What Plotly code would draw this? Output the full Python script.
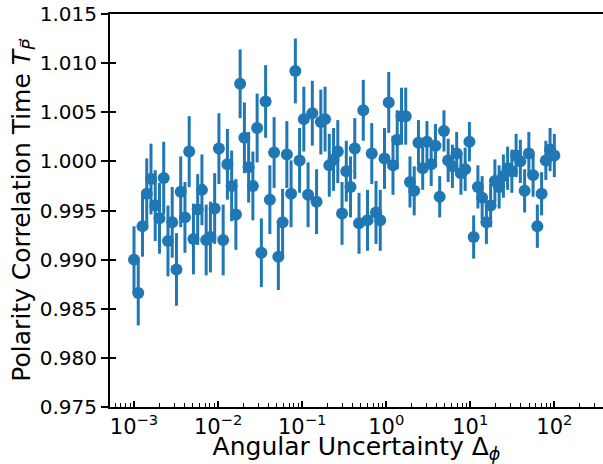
import numpy as np
import plotly.graph_objects as go

# Angular uncertainty grid (100 log-spaced samples, 1e-3 .. 1e2)
delta_phi = np.logspace(-3, 2, 100)

# Normalised polarity correlation time at each sample
corr_time = [
    0.9900, 0.9866, 0.9934, 0.9967, 0.9982, 0.9955, 0.9942, 0.9983, 0.9919, 0.9938,
    0.9890, 0.9969, 0.9943, 1.0010, 0.9921, 0.9951, 0.9971, 0.9920, 0.9923, 0.9952,
    1.0013, 0.9920, 0.9997, 0.9975, 0.9946, 1.0079, 1.0024, 0.9994, 0.9975, 1.0034,
    0.9907, 1.0061, 0.9961, 1.0009, 0.9903, 0.9938, 1.0007, 0.9967, 1.0092, 1.0001,
    1.0043, 0.9966, 1.0049, 0.9959, 1.0040, 1.0043, 0.9996, 1.0002, 1.0010, 0.9947,
    0.9990, 0.9974, 1.0013, 0.9937, 1.0052, 0.9940, 1.0008, 0.9948, 0.9940, 1.0003,
    1.0060, 0.9996, 1.0022, 1.0046, 1.0046, 0.9979, 0.9970, 1.0019, 0.9993, 1.0020,
    0.9997, 1.0016, 0.9964, 1.0031, 1.0001, 0.9995, 1.0008, 0.9988, 0.9992, 1.0020,
    0.9923, 0.9974, 0.9963, 0.9938, 0.9955, 0.9980, 0.9974, 0.9985, 0.9993, 0.9990,
    1.0006, 1.0000, 0.9970, 1.0008, 0.9986, 0.9934, 0.9967, 1.0001, 1.0012, 1.0006,
]

# One-sigma uncertainty of each point
corr_err = [
    0.0034, 0.0033, 0.0031, 0.0036, 0.0036, 0.0036, 0.0036, 0.0037, 0.0036, 0.0036,
    0.0037, 0.0036, 0.0036, 0.0036, 0.0036, 0.0036, 0.0036, 0.0036, 0.0036, 0.0036,
    0.0036, 0.0036, 0.0036, 0.0036, 0.0036, 0.0035, 0.0036, 0.0036, 0.0035, 0.0035,
    0.0035, 0.0037, 0.0035, 0.0036, 0.0034, 0.0034, 0.0034, 0.0034, 0.0033, 0.0033,
    0.0033, 0.0033, 0.0033, 0.0033, 0.0033, 0.0033, 0.0032, 0.0032, 0.0032, 0.0032,
    0.0031, 0.0031, 0.0031, 0.0031, 0.0031, 0.0031, 0.0031, 0.0032, 0.0031, 0.0031,
    0.0031, 0.0030, 0.0030, 0.0029, 0.0029, 0.0026, 0.0025, 0.0023, 0.0022, 0.0021,
    0.0022, 0.0022, 0.0021, 0.0021, 0.0022, 0.0022, 0.0022, 0.0022, 0.0022, 0.0020,
    0.0022, 0.0022, 0.0022, 0.0022, 0.0022, 0.0022, 0.0022, 0.0022, 0.0022, 0.0022,
    0.0022, 0.0022, 0.0022, 0.0022, 0.0022, 0.0022, 0.0022, 0.0020, 0.0022, 0.0022,
]

x_tick_vals = [1e-3, 1e-2, 1e-1, 1e0, 1e1, 1e2]
x_tick_text = ["10<sup>−3</sup>", "10<sup>−2</sup>", "10<sup>−1</sup>",
               "10<sup>0</sup>", "10<sup>1</sup>", "10<sup>2</sup>"]
y_tick_vals = [0.975, 0.980, 0.985, 0.990, 0.995, 1.000, 1.005, 1.010, 1.015]
y_tick_text = ["0.975", "0.980", "0.985", "0.990", "0.995",
               "1.000", "1.005", "1.010", "1.015"]

blue = "#1f77b4"
font_family = "DejaVu Sans"
y_range = [0.975, 1.015]

fig = go.Figure(
    go.Scatter(
        x=delta_phi,
        y=corr_time,
        mode="markers",
        marker=dict(color=blue, size=12),
        error_y=dict(type="data", array=corr_err, color=blue, thickness=3, width=0),
    )
)

fig.update_layout(
    width=603,
    height=464,
    margin=dict(l=110, r=0, t=14, b=57),
    plot_bgcolor="white",
    paper_bgcolor="white",
    showlegend=False,
    font=dict(family=font_family, color="black", size=20),
    # companion axis that carries the inward half of the y ticks
    yaxis2=dict(
        overlaying="y",
        side="left",
        range=y_range,
        tickmode="array",
        tickvals=y_tick_vals,
        ticks="inside",
        ticklen=6,
        tickwidth=1.5,
        tickcolor="black",
        showticklabels=False,
        showgrid=False,
        zeroline=False,
        showline=False,
    ),
)

fig.update_xaxes(
    type="log",
    range=[-3.2855, 2.579],
    tickmode="array",
    tickvals=x_tick_vals,
    ticktext=x_tick_text,
    ticks="inside",
    ticklen=6,
    tickwidth=1.5,
    tickcolor="black",
    minor=dict(ticks="inside", ticklen=4, tickwidth=1.2, tickcolor="black", dtick="D1"),
    showline=True,
    linecolor="black",
    linewidth=2,
    mirror=True,
    showgrid=False,
    zeroline=False,
    tickfont=dict(size=21),
    title=dict(text="Angular Uncertainty Δ<sub><i>ϕ</i></sub>", font=dict(size=25), standoff=4),
)

fig.update_yaxes(
    selector=dict(overlaying=None),
    range=y_range,
    tickmode="array",
    tickvals=y_tick_vals,
    ticktext=y_tick_text,
    ticks="outside",
    ticklen=7,
    tickwidth=1.5,
    tickcolor="black",
    showline=True,
    linecolor="black",
    linewidth=2,
    showgrid=False,
    zeroline=False,
    tickfont=dict(size=20),
    title=dict(text="Polarity Correlation Time <i>T</i><sub><i>P⃗</i></sub>",
               font=dict(size=25), standoff=2),
)

# an empty trace so the companion y axis is drawn
fig.add_trace(go.Scatter(x=[], y=[], yaxis="y2", showlegend=False, hoverinfo="skip"))

fig.write_html("out.html")
